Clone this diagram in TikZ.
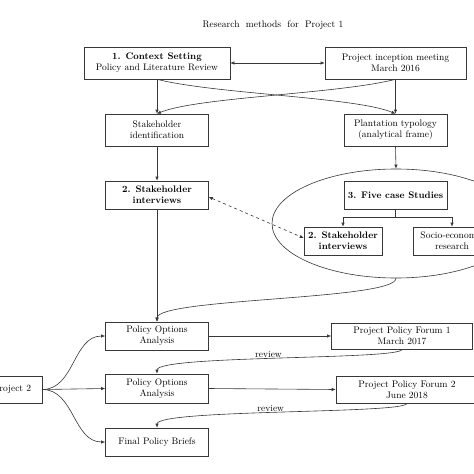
\documentclass[tikz,border=0pt]{standalone}
\usetikzlibrary{shapes.geometric,arrows.meta,calc}
\begin{document}
\begin{tikzpicture}[x=1pt,y=-1pt,
  font=\fontsize{9.5}{11}\selectfont,
  ln/.style={draw=black!78, line width=0.6pt},
  box/.style={ln, align=center, inner sep=1pt, minimum width=103pt, minimum height=28pt},
  arr/.style={ln, -{Latex[length=4pt,width=3.4pt]}},
  darr/.style={ln, {Latex[length=4pt,width=3.4pt]}-{Latex[length=4pt,width=3.4pt]}},
  lbl/.style={inner sep=1pt}]
\clip (0,0) rectangle (474,474);
\fill[white] (0,0) rectangle (474,474);

\node (title) at (273,25) {Research\ \ methods\ \ for\ \ Project 1};

\node[box, minimum width=146pt, minimum height=32pt] (ctx) at (157,63) {\textbf{1. Context Setting}\\Policy and Literature Review};
\node[box, minimum width=141pt, minimum height=32pt] (incep) at (395.5,63) {Project inception meeting\\March 2016};

\node[box, minimum height=32pt] (sid) at (157,130) {Stakeholder\\identification};
\node[box, minimum height=32pt] (plan) at (395.5,130) {Plantation typology\\(analytical frame)};

\node[box] (si2) at (157,195) {\textbf{2. Stakeholder}\\\textbf{interviews}};

\node[ellipse, ln, minimum width=248pt, minimum height=109pt, inner sep=0pt] (ell) at (396,223.5) {};
\node[box] (five) at (395.5,195) {\textbf{3. Five case Studies}};
\node[box, minimum width=78pt] (si3) at (343,241) {\textbf{2. Stakeholder}\\\textbf{interviews}};
\node[box, minimum width=78pt] (socio) at (452,241) {Socio-economic\\research};

\node[box] (poa1) at (157,336) {Policy Options\\Analysis};
\node[box, minimum width=141pt, minimum height=26pt] (ppf1) at (402,336) {Project Policy Forum 1\\March 2017};

\node[box, minimum width=60pt, minimum height=27pt] (proj2) at (12,389.5) {Project 2};
\node[box, minimum height=29pt] (poa2) at (157,388.5) {Policy Options\\Analysis};
\node[box, minimum width=142pt, minimum height=27pt] (ppf2) at (407,389.5) {Project Policy Forum 2\\June 2018};

\node[box] (fpb) at (157,442) {Final Policy Briefs};

% top connections
\draw[darr] (ctx) -- (incep);
\draw[arr] (ctx.south) -- (sid.north);
\draw[arr] (incep.south) -- (plan.north);
\draw[arr] (ctx.south) .. controls (215,94) and (355,97) .. (plan.north);
\draw[arr] (incep.south) .. controls (338,94) and (198,97) .. (sid.north);

\draw[arr] (sid.south) -- (si2.north);
\draw[arr] (plan.south) -- (ell.north);

\coordinate (br) at ($(five.south)+(0,8)$);
\draw[ln] (five.south) -- (br);
\draw[arr] (br) -| (si3.north);
\draw[arr] (br) -| (socio.north);

\draw[darr, dashed] ($(si2.east)+(0,2)$) -- ($(si3.west)+(0,-3)$);

\draw[arr] (si2.south) -- (poa1.north);
\draw[arr] (ell.south) .. controls (396,300) and (157,298) .. (poa1.north);

\draw[arr] (poa1.east) -- (ppf1.west);
\draw[arr] (ppf1.south) .. controls (402,360) and (157,355) .. (poa2.north)
  node[lbl, pos=0.53, above] {review};

\draw[arr] (poa2.east) -- (ppf2.west);
\draw[arr] (ppf2.south) .. controls (407,414) and (157,409) .. (fpb.north)
  node[lbl, pos=0.53, above] {review};

\draw[arr] (proj2.east) to[out=0,in=180] (poa1.west);
\draw[arr] (proj2.east) -- (poa2.west);
\draw[arr] (proj2.east) to[out=0,in=180] (fpb.west);
\end{tikzpicture}
\end{document}
